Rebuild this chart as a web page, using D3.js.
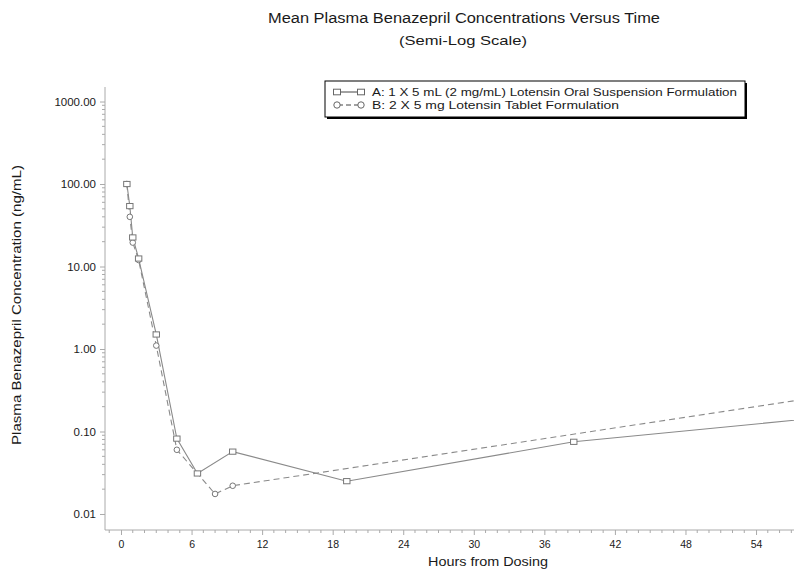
<!DOCTYPE html>
<html>
<head>
<meta charset="utf-8">
<script src="https://cdn.jsdelivr.net/npm/d3@7"></script>
<style>
  body { margin: 0; background: #fff; }
  svg { display: block; font-family: "Liberation Sans", Arial, sans-serif; }
</style>
</head>
<body>
<svg id="chart" width="794" height="572"></svg>
<script>
// ---- data ----
const seriesNames = [
  "A: 1 X 5 mL (2 mg/mL) Lotensin Oral Suspension Formulation",
  "B: 2 X 5 mg Lotensin Tablet Formulation"
];
const timesA = [0.5, 0.75, 1, 1.5, 3, 4.75, 6.5, 9.5, 19.2, 38.5, 72];
const valuesA = [100, 54, 22.5, 12.5, 1.5, 0.082, 0.031, 0.057, 0.025, 0.075, 0.22];
const timesB = [0.5, 0.75, 1, 1.5, 3, 4.75, 8, 9.5, 72];
const valuesB = [100, 40, 19.5, 12, 1.1, 0.060, 0.0175, 0.022, 0.49];
const xTickValues = [0, 6, 12, 18, 24, 30, 36, 42, 48, 54];
const yTickValues = [0.01, 0.1, 1, 10, 100, 1000];
const titleText = "Mean Plasma Benazepril Concentrations Versus Time";
const subtitleText = "(Semi-Log Scale)";
const xTitle = "Hours from Dosing";
const yTitle = "Plasma Benazepril Concentration (ng/mL)";

(function () {
// ---- layout ----
const svg = d3.select("#chart");
const pLeft = 105, pBottom = 530, pTop = 87;
const pxPerHour = 11.76;
const x = d3.scaleLinear().domain([-1.36, 72]).range([pLeft, pLeft + 73.36 * pxPerHour]);
const y = d3.scaleLog().domain([Math.pow(10, -2.194), Math.pow(10, 3.176)]).range([pBottom, pTop]);

const axisColor = "#aaa";
const lineColor = "#8a8a8a";
const textColor = "#1a1a1a";

// titles
svg.append("text").attr("x", 464).attr("y", 23).attr("text-anchor", "middle")
  .attr("font-size", 14).attr("fill", textColor)
  .attr("textLength", 392).attr("lengthAdjust", "spacingAndGlyphs").text(titleText);
svg.append("text").attr("x", 463).attr("y", 45).attr("text-anchor", "middle")
  .attr("font-size", 13).attr("fill", textColor)
  .attr("textLength", 128).attr("lengthAdjust", "spacingAndGlyphs").text(subtitleText);

// y axis
const yAxis = d3.axisLeft(y).tickValues(yTickValues).tickFormat(d3.format(".2f")).tickSize(5).tickPadding(4);
const gy = svg.append("g").attr("transform", `translate(${pLeft},0)`).call(yAxis);
gy.select(".domain").remove();
gy.selectAll(".tick line").attr("stroke", axisColor);
gy.selectAll(".tick text").attr("font-size", 11.5).attr("fill", textColor)
  .attr("font-family", "'Liberation Sans', Arial, sans-serif");
// y minor ticks
const yMinor = [];
for (let e = -2; e <= 3; e++) for (let m = 2; m <= 9; m++) {
  const v = m * Math.pow(10, e);
  if (y(v) >= pTop) yMinor.push(v);
}
svg.append("g").selectAll("line").data(yMinor).join("line")
  .attr("x1", pLeft - 3).attr("x2", pLeft).attr("y1", d => y(d)).attr("y2", d => y(d))
  .attr("stroke", axisColor);
svg.append("line").attr("x1", pLeft).attr("x2", pLeft).attr("y1", pTop).attr("y2", pBottom)
  .attr("stroke", axisColor);

// x axis
const xAxis = d3.axisBottom(x).tickValues(xTickValues).tickFormat(d3.format("d")).tickSize(5).tickPadding(6);
const gx = svg.append("g").attr("transform", `translate(0,${pBottom})`).call(xAxis);
gx.select(".domain").remove();
gx.selectAll(".tick line").attr("stroke", axisColor);
gx.selectAll(".tick text").attr("font-size", 10.5).attr("fill", textColor)
  .attr("font-family", "'Liberation Sans', Arial, sans-serif");
const xMinor = d3.range(-1, 58).filter(h => h % 6 !== 0);
svg.append("g").selectAll("line").data(xMinor).join("line")
  .attr("x1", d => x(d)).attr("x2", d => x(d)).attr("y1", pBottom).attr("y2", pBottom + 3)
  .attr("stroke", axisColor);
svg.append("line").attr("x1", pLeft).attr("x2", 794).attr("y1", pBottom).attr("y2", pBottom)
  .attr("stroke", axisColor);

// axis titles
svg.append("text").attr("x", 488).attr("y", 566).attr("text-anchor", "middle")
  .attr("font-size", 13).attr("fill", textColor)
  .attr("textLength", 120).attr("lengthAdjust", "spacingAndGlyphs").text(xTitle);
svg.append("text").attr("transform", "translate(21,305) rotate(-90)").attr("text-anchor", "middle")
  .attr("font-size", 13).attr("fill", textColor)
  .attr("textLength", 280).attr("lengthAdjust", "spacingAndGlyphs").text(yTitle);

// clip to plot
svg.append("clipPath").attr("id", "plotclip").append("rect")
  .attr("x", pLeft).attr("y", pTop - 10).attr("width", 794 - pLeft).attr("height", pBottom - pTop + 10);
const plot = svg.append("g").attr("clip-path", "url(#plotclip)");

const dataA = timesA.map((t, i) => ({ t, v: valuesA[i] }));
const dataB = timesB.map((t, i) => ({ t, v: valuesB[i] }));
const line = d3.line().x(d => x(d.t)).y(d => y(d.v));

plot.append("path").datum(dataB).attr("d", line).attr("fill", "none")
  .attr("stroke", lineColor).attr("stroke-width", 1.1).attr("stroke-dasharray", "6,4");
plot.append("path").datum(dataA).attr("d", line).attr("fill", "none")
  .attr("stroke", lineColor).attr("stroke-width", 1.1);

const markerColor = "#777";
plot.append("g").selectAll("circle").data(dataB).join("circle")
  .attr("cx", d => x(d.t)).attr("cy", d => y(d.v)).attr("r", 2.8)
  .attr("fill", "#fff").attr("stroke", markerColor).attr("stroke-width", 1);
plot.append("g").selectAll("rect").data(dataA).join("rect")
  .attr("x", d => x(d.t) - 3.2).attr("y", d => y(d.v) - 2.6).attr("width", 6.4).attr("height", 5.2)
  .attr("fill", "#fff").attr("stroke", markerColor).attr("stroke-width", 1);

// legend
const lg = svg.append("g");
lg.append("rect").attr("x", 327).attr("y", 83).attr("width", 420).attr("height", 36).attr("fill", "#000");
lg.append("rect").attr("x", 325).attr("y", 81).attr("width", 420).attr("height", 36)
  .attr("fill", "#fff").attr("stroke", "#000").attr("stroke-width", 1);
const legY = [92, 105];
const legLen = [365, 247];
lg.append("line").attr("x1", 338).attr("x2", 361).attr("y1", legY[0]).attr("y2", legY[0]).attr("stroke", "#444");
lg.selectAll("rect.la").data([337, 361]).join("rect").attr("class", "la")
  .attr("x", d => d - 3.5).attr("y", legY[0] - 2.8).attr("width", 7).attr("height", 5.6)
  .attr("fill", "#fff").attr("stroke", "#666");
lg.append("line").attr("x1", 338).attr("x2", 361).attr("y1", legY[1]).attr("y2", legY[1])
  .attr("stroke", "#444").attr("stroke-dasharray", "5,3");
lg.selectAll("circle.lb").data([337, 361]).join("circle").attr("class", "lb")
  .attr("cx", d => d).attr("cy", legY[1]).attr("r", 3.2)
  .attr("fill", "#fff").attr("stroke", "#666");
lg.selectAll("text.lt").data(seriesNames).join("text").attr("class", "lt")
  .attr("x", 372).attr("y", (d, i) => legY[i] + 4).attr("font-size", 11.5).attr("fill", textColor)
  .attr("textLength", (d, i) => legLen[i]).attr("lengthAdjust", "spacingAndGlyphs")
  .text(d => d);
})();
</script>
</body>
</html>
